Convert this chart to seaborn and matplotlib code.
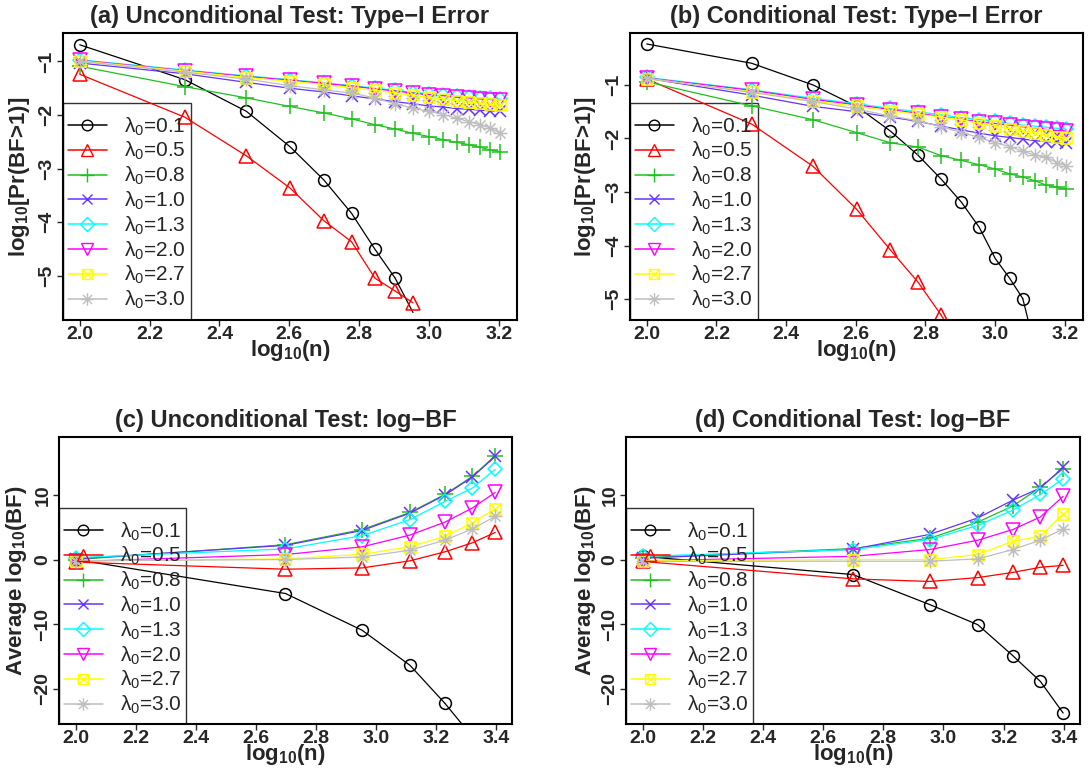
import numpy as np
import matplotlib
matplotlib.use("Agg")
import matplotlib.pyplot as plt
from matplotlib.lines import Line2D
from matplotlib.path import Path
from matplotlib.patches import Rectangle
import seaborn as sns

# sample sizes used in the simulations
n_top = [100, 200, 300, 400, 500, 600, 700, 800, 900, 1000, 1100, 1200, 1300, 1400, 1500, 1600]
n_bottom = [100, 500, 900, 1300, 1700, 2100, 2500]
lambdas = ["0.1", "0.5", "0.8", "1.0", "1.3", "2.0", "2.7", "3.0"]

# (a) unconditional test, log10 Pr(BF>1)
a_l01 = [-0.69, -1.34, -1.93, -2.59, -3.21, -3.83, -4.50, -5.04]
a_l05 = [-1.24, -2.04, -2.76, -3.36, -3.97, -4.36, -5.04, -5.28, -5.50]
a_l08 = [-1.09, -1.47, -1.68, -1.84, -1.96, -2.07, -2.18, -2.26, -2.34, -2.40, -2.46, -2.51, -2.55, -2.60, -2.65, -2.68]
a_l10 = [-1.03, -1.23, -1.39, -1.50, -1.57, -1.64, -1.70, -1.75, -1.79, -1.83, -1.85, -1.88, -1.89, -1.91, -1.92, -1.93]
a_l13 = [-0.97, -1.16, -1.27, -1.34, -1.40, -1.45, -1.50, -1.54, -1.58, -1.61, -1.63, -1.65, -1.67, -1.68, -1.69, -1.70]
a_l20 = [-0.98, -1.17, -1.28, -1.35, -1.41, -1.46, -1.51, -1.55, -1.59, -1.62, -1.64, -1.67, -1.68, -1.70, -1.71, -1.72]
a_l27 = [-0.99, -1.18, -1.30, -1.37, -1.43, -1.49, -1.54, -1.59, -1.63, -1.67, -1.70, -1.73, -1.76, -1.78, -1.80, -1.82]
a_l30 = [-1.00, -1.20, -1.33, -1.45, -1.53, -1.59, -1.68, -1.79, -1.87, -1.93, -1.99, -2.06, -2.12, -2.18, -2.24, -2.34]

# (b) conditional test, log10 Pr(BF>1)
b_l01 = [-0.235, -0.595, -1.00, -1.40, -1.86, -2.31, -2.76, -3.19, -3.66, -4.24, -4.61, -4.99]
b_l05 = [-0.89, -1.73, -2.52, -3.32, -4.08, -4.68, -5.30]
b_l08 = [-0.94, -1.39, -1.65, -1.89, -2.08, -2.16, -2.32, -2.41, -2.49, -2.57, -2.66, -2.72, -2.79, -2.87, -2.91, -2.95]
b_l10 = [-0.875, -1.19, -1.40, -1.50, -1.60, -1.68, -1.77, -1.84, -1.90, -1.95, -1.98, -2.01, -2.04, -2.06, -2.07, -2.08]
b_l13 = [-0.86, -1.09, -1.25, -1.35, -1.44, -1.50, -1.56, -1.61, -1.65, -1.68, -1.72, -1.75, -1.77, -1.79, -1.81, -1.83]
b_l20 = [-0.87, -1.10, -1.27, -1.37, -1.46, -1.53, -1.59, -1.64, -1.69, -1.72, -1.75, -1.78, -1.81, -1.83, -1.85, -1.86]
b_l27 = [-0.88, -1.13, -1.30, -1.40, -1.48, -1.55, -1.60, -1.65, -1.72, -1.77, -1.82, -1.86, -1.90, -1.94, -1.97, -2.00]
b_l30 = [-0.875, -1.14, -1.31, -1.45, -1.58, -1.67, -1.78, -1.89, -1.98, -2.08, -2.15, -2.24, -2.31, -2.35, -2.45, -2.51]

# (c) unconditional test, average log10(BF)
c_l01 = [0.0, -5.27, -10.96, -16.4, -22.3]
c_l05 = [-0.4, -1.5, -1.3, -0.2, 1.2, 2.6, 4.2]
c_l08 = [0.0, 2.3, 4.65, 7.3, 10.1, 12.9, 16.1]
c_l10 = [0.1, 2.2, 4.5, 7.2, 10.0, 12.8, 16.0]
c_l13 = [0.3, 1.65, 3.7, 6.2, 9.0, 11.1, 14.0]
c_l20 = [-0.3, 0.78, 1.97, 3.8, 5.8, 8.0, 10.4]
c_l27 = [-0.2, 0.1, 0.8, 2.0, 3.6, 5.7, 7.9]
c_l30 = [-0.2, 0.0, 0.4, 1.45, 3.0, 4.75, 6.7]

# (d) conditional test, average log10(BF)
d_l01 = [0.5, -2.33, -6.98, -10.1, -14.9, -18.9, -23.8]
d_l05 = [-0.3, -3.0, -3.4, -2.8, -2.0, -1.2, -0.9]
d_l08 = [0.3, 1.7, 3.3, 5.8, 8.3, 11.2, 14.1]
d_l10 = [0.2, 1.6, 3.9, 6.45, 9.2, 11.1, 14.3]
d_l13 = [0.5, 1.55, 3.1, 5.3, 7.65, 10.1, 12.5]
d_l20 = [-0.2, 0.5, 1.55, 3.0, 4.65, 6.6, 9.8]
d_l27 = [-0.2, 0.0, 0.0, 0.78, 2.85, 3.6, 7.1]
d_l30 = [-0.3, -0.26, -0.26, 0.1, 1.55, 3.0, 4.75]

# where the fitted curves run on past the last plotted point: (n, value)
a_l01_tail = [900, -5.68]
b_l01_tail = [1300, -5.9]
b_l05_tail = [800, -5.95]
c_l01_tail = [2100, -27.5]

# ---- styles (R pch 1..8)
box_x = Path([(-1, -1), (1, -1), (1, 1), (-1, 1), (-1, -1), (-1, -1), (1, 1), (-1, 1), (1, -1)],
             [Path.MOVETO, Path.LINETO, Path.LINETO, Path.LINETO, Path.CLOSEPOLY,
              Path.MOVETO, Path.LINETO, Path.MOVETO, Path.LINETO])
star = Path([(-1, 0), (1, 0), (0, -1), (0, 1), (-0.72, -0.72), (0.72, 0.72), (-0.72, 0.72), (0.72, -0.72)],
            [Path.MOVETO, Path.LINETO] * 4)

colors = ["#000000", "#FF0000", "#1FC01F", "#6633FF", "#00FFFF", "#FF00FF", "#FFFF00", "#BEBEBE"]
markers = ["o", "^", "+", "x", "D", "v", box_x, star]
msizes = [8.5, 10, 11, 8.5, 7.5, 10, 8, 10]

sns.set_style("ticks")
plt.rcParams["font.family"] = ["Liberation Sans", "DejaVu Sans"]
plt.rcParams["mathtext.default"] = "regular"

W, H = 1089, 769
fig = plt.figure(figsize=(W / 100, H / 100), dpi=100)


def add_panel(left, top, right, bottom):
    return fig.add_axes([left / W, 1 - bottom / H, (right - left) / W, (bottom - top) / H])


def draw_series(ax, xs, ys, k):
    sns.lineplot(x=xs, y=ys, ax=ax, color=colors[k], marker=markers[k], markersize=msizes[k],
                 markerfacecolor="none", markeredgecolor=colors[k], markeredgewidth=1.1,
                 linewidth=0.9, errorbar=None, sort=False, legend=False)


def draw_tail(ax, xs, ys, tail, k):
    sns.lineplot(x=[xs[-1], np.log10(tail[0])], y=[ys[-1], tail[1]], ax=ax, color=colors[k],
                 linewidth=0.9, errorbar=None, sort=False, legend=False)


panels = [
    dict(box=(63, 33, 517, 320), n=n_top, series=[a_l01, a_l05, a_l08, a_l10, a_l13, a_l20, a_l27, a_l30],
         tails={0: a_l01_tail}, title="(a) Unconditional Test: Type\u2212I Error",
         ylabel="log$_{10}$[Pr(BF>1)]", xlim=(1.952, 3.252), ylim=(-5.82, -0.47),
         yticks=[-5, -4, -3, -2, -1], xticks=np.arange(2.0, 3.21, 0.2), leg=(191, 103), ylab_dx=-31),
    dict(box=(630, 33, 1083, 320), n=n_top, series=[b_l01, b_l05, b_l08, b_l10, b_l13, b_l20, b_l27, b_l30],
         tails={0: b_l01_tail, 1: b_l05_tail}, title="(b) Conditional Test: Type\u2212I Error",
         ylabel="log$_{10}$[Pr(BF>1)]", xlim=(1.952, 3.252), ylim=(-5.39, -0.03),
         yticks=[-5, -4, -3, -2, -1], xticks=np.arange(2.0, 3.21, 0.2), leg=(758, 103), ylab_dx=-32),
    dict(box=(59, 437, 512, 724), n=n_bottom, series=[c_l01, c_l05, c_l08, c_l10, c_l13, c_l20, c_l27, c_l30],
         tails={0: c_l01_tail}, title="(c) Unconditional Test: log\u2212BF",
         ylabel="Average log$_{10}$(BF)", xlim=(1.944, 3.454), ylim=(-25.5, 19.0),
         yticks=[-20, -10, 0, 10], xticks=np.arange(2.0, 3.41, 0.2), leg=(186, 508), ylab_dx=-30),
    dict(box=(626, 437, 1080, 724), n=n_bottom, series=[d_l01, d_l05, d_l08, d_l10, d_l13, d_l20, d_l27, d_l30],
         tails={}, title="(d) Conditional Test: log\u2212BF",
         ylabel="Average log$_{10}$(BF)", xlim=(1.944, 3.454), ylim=(-25.5, 19.0),
         yticks=[-20, -10, 0, 10], xticks=np.arange(2.0, 3.41, 0.2), leg=(753, 508), ylab_dx=-28),
]

handles = [Line2D([], [], color=colors[k], marker=markers[k], markersize=msizes[k] * 0.9,
                  markerfacecolor="none", markeredgecolor=colors[k], markeredgewidth=1.0, linewidth=1.1)
           for k in range(8)]
labels = ["\u03bb$_0$=" + v for v in lambdas]

for p in panels:
    left, top, right, bottom = p["box"]
    ax = add_panel(left, top, right, bottom)
    xs_all = np.log10(p["n"])
    for k, ys in enumerate(p["series"]):
        xs = xs_all[:len(ys)]
        draw_series(ax, xs, ys, k)
        if k in p["tails"]:
            draw_tail(ax, xs, ys, p["tails"][k], k)

    ax.set_xlim(*p["xlim"])
    ax.set_ylim(*p["ylim"])
    ax.set_xticks(p["xticks"])
    ax.set_xticklabels([f"{t:.1f}" for t in p["xticks"]])
    ax.set_yticks(p["yticks"])
    ax.set_yticklabels([f"{t}".replace("-", "\u2212") for t in p["yticks"]], rotation=90, va="center")
    ax.tick_params(axis="x", length=4, width=1, pad=0.5, labelsize=14)
    ax.tick_params(axis="y", length=4, width=1, pad=1.5, labelsize=14)
    for lab in ax.get_xticklabels() + ax.get_yticklabels():
        lab.set_fontweight("bold")
    for s in ax.spines.values():
        s.set_visible(True)
        s.set_linewidth(1.5)
        s.set_color("black")

    ax.set_title(p["title"], fontsize=17, fontweight="bold", pad=7)
    ax.set_xlabel("log$_{10}$(n)", fontsize=16, fontweight="bold")
    ax.set_ylabel(p["ylabel"], fontsize=16, fontweight="bold")
    ax.xaxis.set_label_coords(0.5, -18 / (bottom - top))
    ax.yaxis.set_label_coords(p["ylab_dx"] / (right - left), 0.5)

    # legend frame (only top and right edges show, the rest sits on the axes box)
    lx, ly = p["leg"]
    fw = (lx - left) / (right - left)
    fh = (bottom - ly) / (bottom - top)
    ax.add_patch(Rectangle((0, 0), fw, fh, transform=ax.transAxes, fill=False,
                           edgecolor="#333333", linewidth=1.0, zorder=1))
    ax.legend(handles, labels, loc="upper left", bbox_to_anchor=(0, fh - 7 / (bottom - top)),
              frameon=False, fontsize=15, borderaxespad=0, borderpad=0.25, handlelength=1.85,
              handletextpad=0.85, labelspacing=0.12)

fig.savefig("out.png", dpi=100)
